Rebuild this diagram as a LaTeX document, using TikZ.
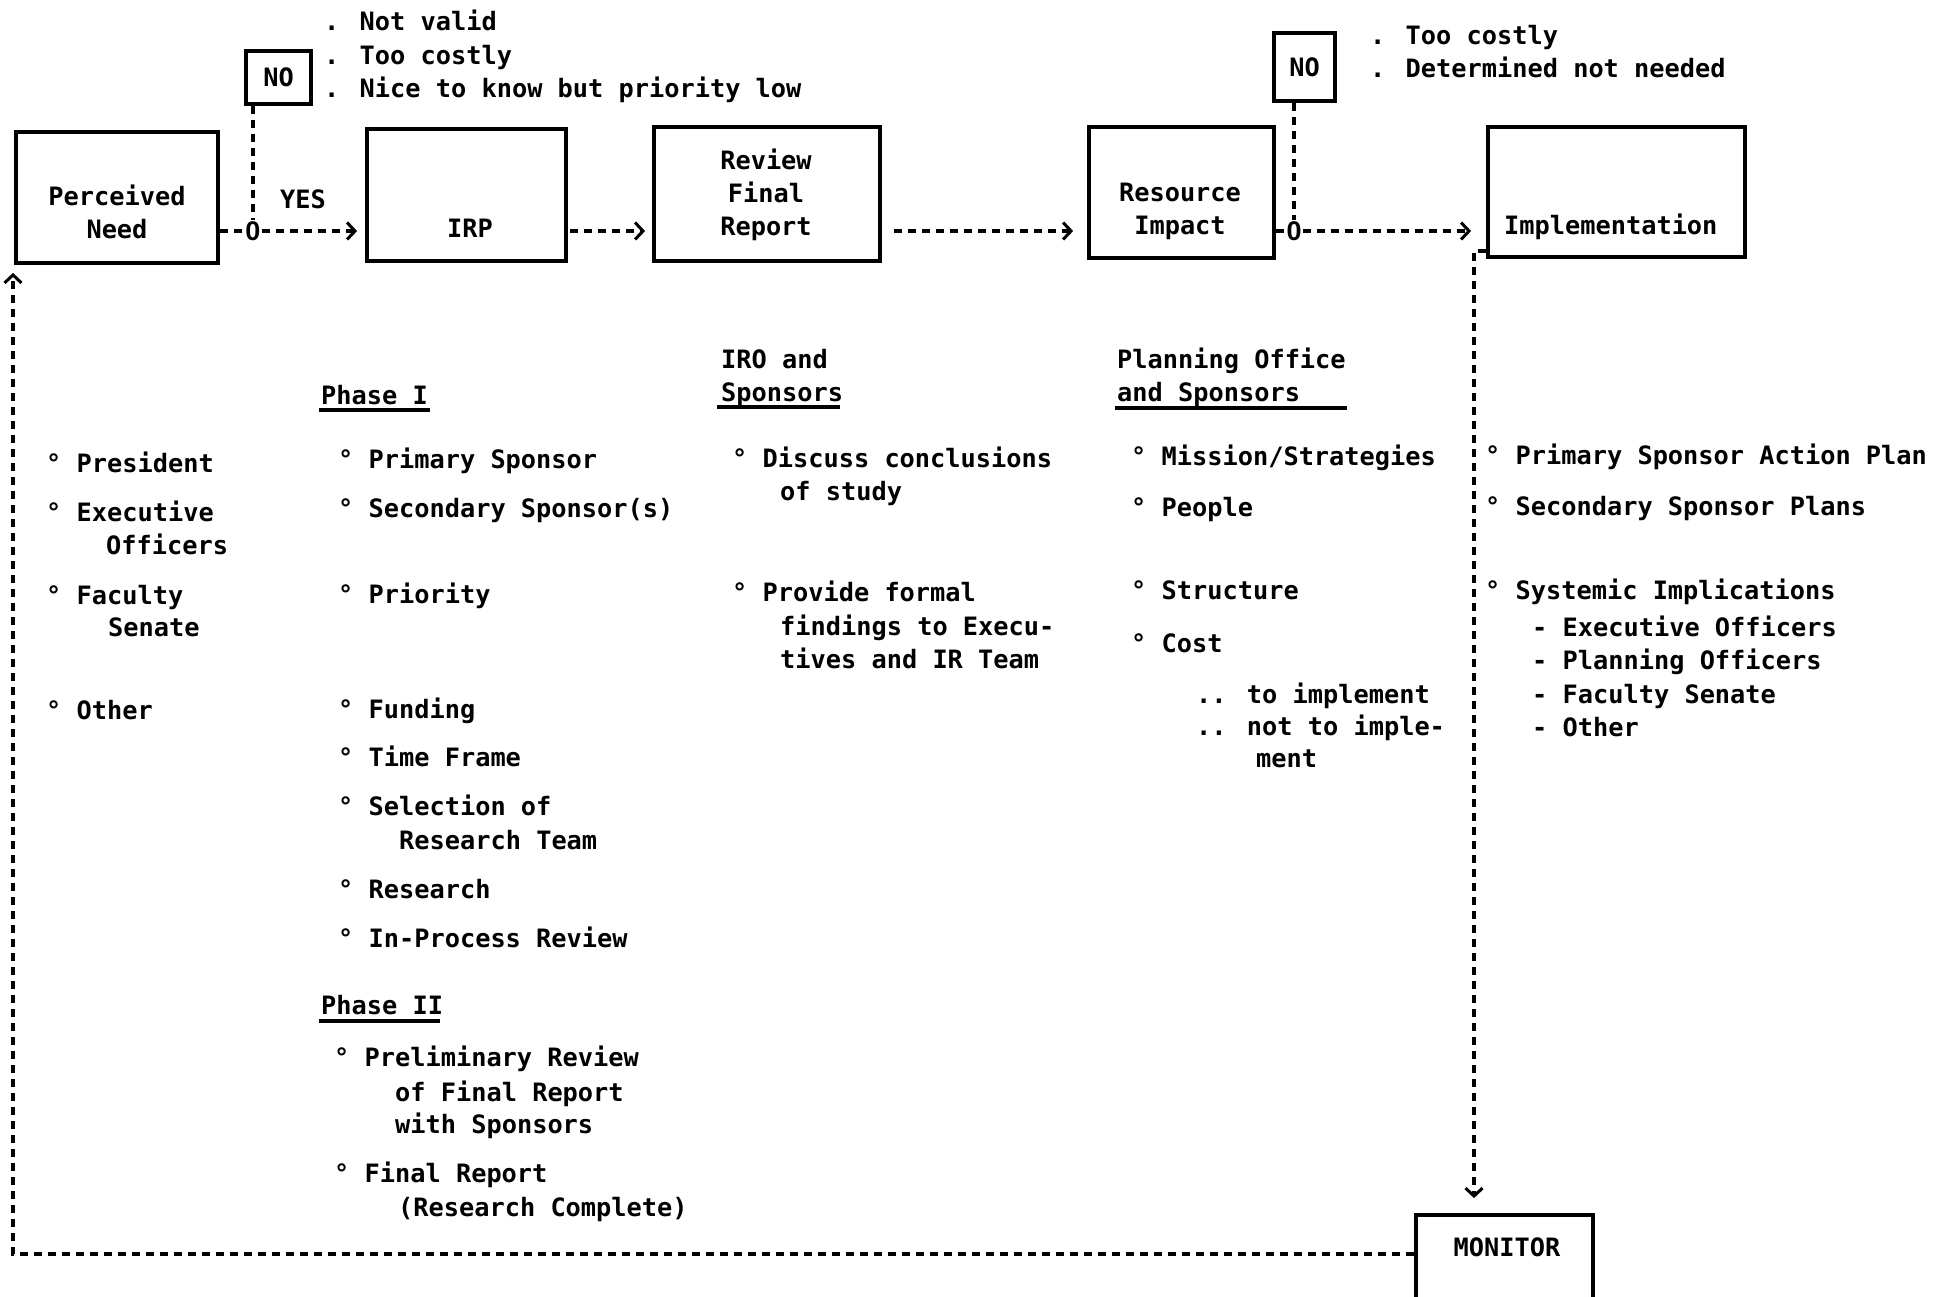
\documentclass[tikz,border=0pt]{standalone}
\usepackage{fontspec}
\setmainfont{DejaVu Sans Mono}
\newfontfamily\zerofont{Liberation Sans}
\usetikzlibrary{arrows.meta,calc}
\begin{document}
\begin{tikzpicture}[x=1pt,y=-1pt,
  every node/.style={font=\fontsize{25.3}{30}\selectfont\bfseries},
  box/.style={draw,line width=3.8pt,inner sep=0pt,rectangle},
  t/.style={anchor=base west,inner sep=0pt},
  c/.style={anchor=base,inner sep=0pt},
  zero/.style={fill=white,inner sep=1pt,font=\fontsize{27}{30}\selectfont\bfseries\zerofont},
  conn/.style={line width=3.6pt,dash pattern=on 8pt off 6pt},
  tip/.style={-{Straight Barb[length=8pt,width=17pt,line width=3pt]}},
  ul/.style={line width=3.4pt}]
\useasboundingbox (0,0) rectangle (1938,1296);
\clip (0,0) rectangle (1938,1296);

% boxes
\node[box,minimum width=202,minimum height=131] (pn) at (117,197.5) {};
\node[box,minimum width=199,minimum height=132] (irp) at (466.5,195) {};
\node[box,minimum width=226,minimum height=134] (rfr) at (767,194) {};
\node[box,minimum width=185,minimum height=131] (ri) at (1181.5,192.5) {};
\node[box,minimum width=257,minimum height=130] (imp) at (1616.5,192) {};
\node[box,minimum width=65,minimum height=53] (no1) at (278.5,77.5) {NO};
\node[box,minimum width=61,minimum height=68] (no2) at (1304.5,67) {NO};
\node[box,minimum width=177,minimum height=150] (mon) at (1504.5,1290) {};

% box labels
\node[c] (pnA) at (117,205) {Perceived};
\node[c] (pnB) at (117,238) {Need};
\node[c] (irpA) at (470,237) {IRP};
\node[c] (rfrA) at (766,169) {Review};
\node[c] (rfrB) at (766,202) {Final};
\node[c] (rfrC) at (766,235) {Report};
\node[c] (riA) at (1180,201) {Resource};
\node[c] (riB) at (1180,234) {Impact};
\node[t] (impA) at (1504,234) {Implementation};
\node[c] (monA) at (1507,1256) {MONITOR};
\node[c] (yes) at (303,208) {YES};

% reasons
\node[t] (r1) at (324,30) {. Not valid};
\node[t] (r2) at (324,64) {. Too costly};
\node[t] (r3) at (324,97) {. Nice to know but priority low};
\node[t] (r4) at (1370,44) {. Too costly};
\node[t] (r5) at (1370,77) {. Determined not needed};

% connectors
\node[zero] (z1) at (253,231) {0};
\node[zero] (z2) at (1294,231) {0};
\draw[conn] (pn.east|-z1) -- (z1.west);
\draw[conn,tip,shorten >=8pt] (z1.east) -- (irp.west|-z1);
\draw[conn] (no1.south-|z1) -- (z1.north);
\draw[conn,tip,shorten <=2pt,shorten >=7pt] (irp.east|-z1) -- (rfr.west|-z1);
\draw[conn,tip,shorten <=12pt,shorten >=14pt] (rfr.east|-z1) -- (ri.west|-z1);
\draw[conn] (ri.east|-z2) -- (z2.west);
\draw[conn,tip,shorten >=15pt] (z2.east) -- (imp.west|-z2);
\draw[conn] (no2.south-|z2) -- (z2.north);
\coordinate (dc) at (1474,251);
\draw[conn,tip,shorten >=15pt] (imp.south west|-dc) -- (dc) -- (dc|-mon.north);
\coordinate (fc) at (13,1254);
\draw[conn,tip,shorten >=8pt] (mon.west|-fc) -- (fc) -- (fc|-pn.south);

% column 1
\node[t] (a1) at (46,472) {° President};
\node[t] (a2) at (46,521) {° Executive};
\node[t] (a3) at (106,554) {Officers};
\node[t] (a4) at (46,604) {° Faculty};
\node[t] (a5) at (108,636) {Senate};
\node[t] (a6) at (46,719) {° Other};

% column 2
\node[t] (ph1) at (321,404) {Phase I};
\draw[ul] ($(ph1.base west)+(-2,6)$) -- ++(111,0);
\node[t] (b1) at (338,468) {° Primary Sponsor};
\node[t] (b2) at (338,517) {° Secondary Sponsor(s)};
\node[t] (b3) at (338,603) {° Priority};
\node[t] (b4) at (338,718) {° Funding};
\node[t] (b5) at (338,766) {° Time Frame};
\node[t] (b6) at (338,815) {° Selection of};
\node[t] (b7) at (399,849) {Research Team};
\node[t] (b8) at (338,898) {° Research};
\node[t] (b9) at (338,947) {° In-Process Review};
\node[t] (ph2) at (321,1014) {Phase II};
\draw[ul] ($(ph2.base west)+(-2,7)$) -- ++(121,0);
\node[t] (b10) at (334,1066) {° Preliminary Review};
\node[t] (b11) at (395,1101) {of Final Report};
\node[t] (b12) at (395,1133) {with Sponsors};
\node[t] (b13) at (334,1182) {° Final Report};
\node[t] (b14) at (398,1216) {(Research Complete)};

% column 3
\node[t] (ch3a) at (721,368) {IRO and};
\node[t] (ch3b) at (721,401) {Sponsors};
\draw[ul] ($(ch3b.base west)+(-4,6)$) -- ++(123,0);
\node[t] (d1) at (732,467) {° Discuss conclusions};
\node[t] (d2) at (780,500) {of study};
\node[t] (d3) at (732,601) {° Provide formal};
\node[t] (d4) at (780,635) {findings to Execu-};
\node[t] (d5) at (780,668) {tives and IR Team};

% column 4
\node[t] (ch4a) at (1117,368) {Planning Office};
\node[t] (ch4b) at (1117,401) {and Sponsors};
\draw[ul] ($(ch4b.base west)+(-2,7)$) -- ++(232,0);
\node[t] (e1) at (1131,465) {° Mission/Strategies};
\node[t] (e2) at (1131,516) {° People};
\node[t] (e3) at (1131,599) {° Structure};
\node[t] (e4) at (1131,652) {° Cost};
\node[t] (e5) at (1196,703) {.. to implement};
\node[t] (e6) at (1196,735) {.. not to imple-};
\node[t] (e7) at (1256,767) {ment};

% column 5
\node[t] (f1) at (1485,464) {° Primary Sponsor Action Plan};
\node[t] (f2) at (1485,515) {° Secondary Sponsor Plans};
\node[t] (f3) at (1485,599) {° Systemic Implications};
\node[t] (f4) at (1532,636) {- Executive Officers};
\node[t] (f5) at (1532,669) {- Planning Officers};
\node[t] (f6) at (1532,703) {- Faculty Senate};
\node[t] (f7) at (1532,736) {- Other};
\end{tikzpicture}
\end{document}
